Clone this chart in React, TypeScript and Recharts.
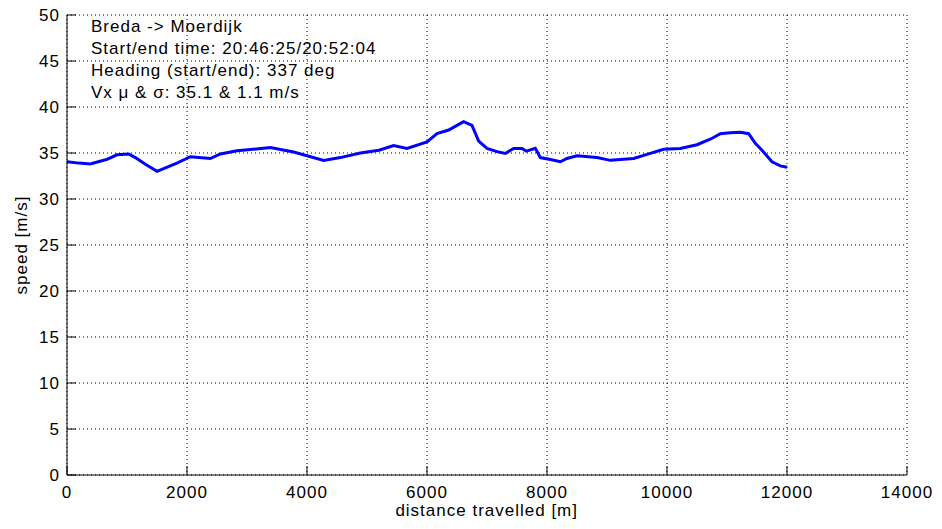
import { CartesianGrid, Line, LineChart, XAxis, YAxis } from "recharts";

const distance = [
  0, 200, 388, 550, 667, 833, 1028, 1139, 1300, 1500, 1611, 1833, 2055, 2389, 2556, 2833, 3100, 3389,
  3667, 3778, 4000, 4278, 4556, 4889, 5200, 5444, 5667, 6000, 6167, 6361, 6500, 6611, 6750, 6861,
  7000, 7167, 7306, 7444, 7583, 7656, 7806, 7889, 8056, 8222, 8333, 8500, 8833, 9056, 9444, 9667,
  9944, 10222, 10500, 10722, 10889, 11056, 11222, 11361, 11472, 11583, 11750, 11889, 12000,
];
const speed = [
  34.05, 33.9, 33.8, 34.1, 34.3, 34.8, 34.9, 34.5, 33.8, 33.0, 33.3, 33.9, 34.6, 34.4, 34.9, 35.25,
  35.4, 35.6, 35.25, 35.1, 34.7, 34.2, 34.5, 35.0, 35.3, 35.8, 35.5, 36.2, 37.1, 37.5, 38.0, 38.4,
  38.0, 36.3, 35.5, 35.15, 34.95, 35.5, 35.5, 35.2, 35.5, 34.5, 34.3, 34.05, 34.4, 34.7, 34.5, 34.2,
  34.4, 34.85, 35.4, 35.5, 35.9, 36.5, 37.1, 37.2, 37.25, 37.1, 36.05, 35.3, 34.05, 33.6, 33.45,
];
const xTicks = [0, 2000, 4000, 6000, 8000, 10000, 12000, 14000];
const yTicks = [0, 5, 10, 15, 20, 25, 30, 35, 40, 45, 50];
const infoLines = [
  "Breda -> Moerdijk",
  "Start/end time: 20:46:25/20:52:04",
  "Heading (start/end): 337 deg",
  "Vx \u03bc & \u03c3: 35.1 & 1.1 m/s",
];

const data = distance.map((d, i) => ({ d, v: speed[i] }));

const font = "'Liberation Sans', Arial, sans-serif";
const tickStyle = { fontSize: 17, fill: "#000" };
const axisLine = { stroke: "#000", strokeWidth: 1 };

export default function App() {
  return (
    <div
      style={{
        position: "absolute",
        left: 0,
        top: 0,
        width: 942,
        height: 529,
        background: "#fff",
        fontFamily: font,
        letterSpacing: "1px",
      }}
    >
      <LineChart width={942} height={529} data={data} margin={{ top: 15, right: 35, bottom: 0, left: 7 }}>
        <CartesianGrid stroke="#000" strokeDasharray="1 3" />
        <XAxis
          dataKey="d"
          type="number"
          domain={[0, 14000]}
          ticks={xTicks}
          interval={0}
          height={54}
          tickSize={-9}
          tickMargin={20}
          tickLine={{ stroke: "#000" }}
          axisLine={axisLine}
          tick={tickStyle}
        />
        <XAxis
          xAxisId="top"
          orientation="top"
          dataKey="d"
          type="number"
          domain={[0, 14000]}
          ticks={xTicks}
          interval={0}
          height={0}
          tickSize={-9}
          tick={false}
          tickLine={{ stroke: "#000" }}
          axisLine={axisLine}
        />
        <YAxis
          type="number"
          domain={[0, 50]}
          ticks={yTicks}
          interval={0}
          width={60}
          tickSize={-9}
          tickMargin={16}
          tickLine={{ stroke: "#000" }}
          axisLine={axisLine}
          tick={tickStyle}
        />
        <YAxis
          yAxisId="right"
          orientation="right"
          type="number"
          domain={[0, 50]}
          ticks={yTicks}
          interval={0}
          width={0}
          tickSize={-9}
          tick={false}
          tickLine={{ stroke: "#000" }}
          axisLine={axisLine}
        />
        <Line
          dataKey="v"
          type="linear"
          stroke="#0000ff"
          strokeWidth={3}
          dot={false}
          isAnimationActive={false}
        />
      </LineChart>
      <div
        style={{
          position: "absolute",
          left: 91,
          top: 16.4,
          fontSize: 17,
          lineHeight: "22px",
          color: "#000",
          whiteSpace: "pre",
        }}
      >
        {infoLines.map((l) => (
          <div key={l}>{l}</div>
        ))}
      </div>
      <svg
        width={942}
        height={529}
        style={{ position: "absolute", left: 0, top: 0, pointerEvents: "none" }}
      >
        <text x={486.7} y={516} textAnchor="middle" fontSize={17} fill="#000">
          distance travelled [m]
        </text>
        <text x={27} y={245} textAnchor="middle" fontSize={17} fill="#000" transform="rotate(-90 27 245)">
          speed [m/s]
        </text>
      </svg>
    </div>
  );
}
